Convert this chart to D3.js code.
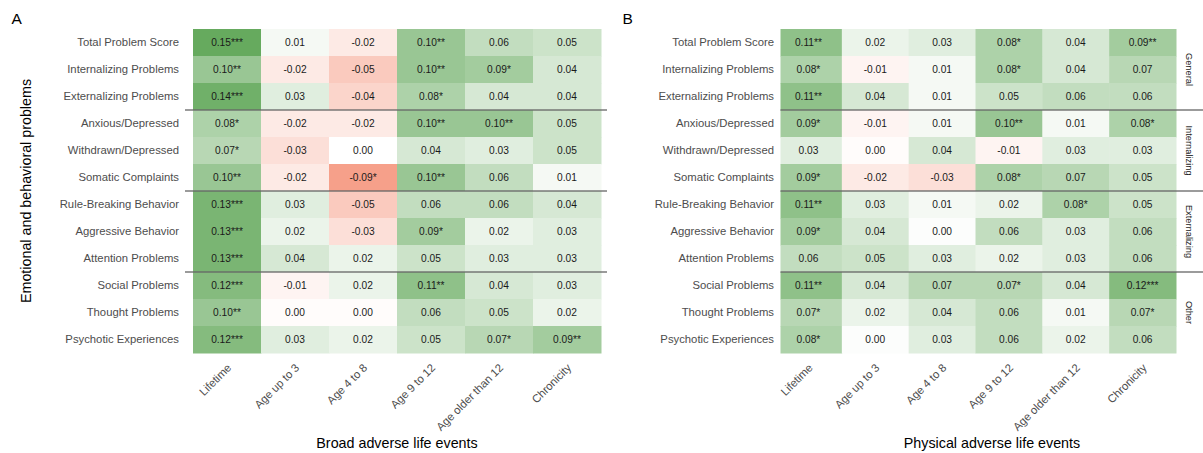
<!DOCTYPE html>
<html>
<head>
<meta charset="utf-8">
<script src="https://cdn.jsdelivr.net/npm/d3@7"></script>
<style>
  html, body { margin: 0; padding: 0; background: #fff; }
  svg { display: block; font-family: "Liberation Sans", Arial, sans-serif; }
</style>
</head>
<body>
<svg id="chart" width="1203" height="453"></svg>
<script>
// ---------------- DATA ----------------
const rows = [
  "Total Problem Score", "Internalizing Problems", "Externalizing Problems",
  "Anxious/Depressed", "Withdrawn/Depressed", "Somatic Complaints",
  "Rule-Breaking Behavior", "Aggressive Behavior", "Attention Problems",
  "Social Problems", "Thought Problems", "Psychotic Experiences"
];
const columns = ["Lifetime", "Age up to 3", "Age 4 to 8", "Age 9 to 12", "Age older than 12", "Chronicity"];
const groups = ["General", "Internalizing", "Externalizing", "Other"];

// Panel A: Broad adverse life events (rows x columns)
const broadValues = [
  [0.15, 0.01, -0.02, 0.10, 0.06, 0.05],
  [0.10, -0.02, -0.05, 0.10, 0.09, 0.04],
  [0.14, 0.03, -0.04, 0.08, 0.04, 0.04],
  [0.08, -0.02, -0.02, 0.10, 0.10, 0.05],
  [0.07, -0.03, 0.00, 0.04, 0.03, 0.05],
  [0.10, -0.02, -0.09, 0.10, 0.06, 0.01],
  [0.13, 0.03, -0.05, 0.06, 0.06, 0.04],
  [0.13, 0.02, -0.03, 0.09, 0.02, 0.03],
  [0.13, 0.04, 0.02, 0.05, 0.03, 0.03],
  [0.12, -0.01, 0.02, 0.11, 0.04, 0.03],
  [0.10, -0.003, -0.003, 0.06, 0.05, 0.02],
  [0.12, 0.03, 0.02, 0.05, 0.07, 0.09]
];
const broadStars = [
  ["***", "", "", "**", "", ""],
  ["**", "", "", "**", "*", ""],
  ["***", "", "", "*", "", ""],
  ["*", "", "", "**", "**", ""],
  ["*", "", "", "", "", ""],
  ["**", "", "*", "**", "", ""],
  ["***", "", "", "", "", ""],
  ["***", "", "", "*", "", ""],
  ["***", "", "", "", "", ""],
  ["***", "", "", "**", "", ""],
  ["**", "", "", "", "", ""],
  ["***", "", "", "", "*", "**"]
];

// Panel B: Physical adverse life events
const physicalValues = [
  [0.11, 0.02, 0.03, 0.08, 0.04, 0.09],
  [0.08, -0.01, 0.01, 0.08, 0.04, 0.07],
  [0.11, 0.04, 0.01, 0.05, 0.06, 0.06],
  [0.09, -0.01, 0.01, 0.10, 0.01, 0.08],
  [0.03, -0.003, 0.04, -0.01, 0.03, 0.03],
  [0.09, -0.02, -0.03, 0.08, 0.07, 0.05],
  [0.11, 0.03, 0.01, 0.02, 0.08, 0.05],
  [0.09, 0.04, 0.003, 0.06, 0.03, 0.06],
  [0.06, 0.05, 0.03, 0.02, 0.03, 0.06],
  [0.11, 0.04, 0.07, 0.07, 0.04, 0.12],
  [0.07, 0.02, 0.04, 0.06, 0.01, 0.07],
  [0.08, 0.003, 0.03, 0.06, 0.02, 0.06]
];
const physicalStars = [
  ["**", "", "", "*", "", "**"],
  ["*", "", "", "*", "", ""],
  ["**", "", "", "", "", ""],
  ["*", "", "", "**", "", "*"],
  ["", "", "", "", "", ""],
  ["*", "", "", "*", "", ""],
  ["**", "", "", "", "*", ""],
  ["*", "", "", "", "", ""],
  ["", "", "", "", "", ""],
  ["**", "", "", "*", "", "***"],
  ["*", "", "", "", "", "*"],
  ["*", "", "", "", "", ""]
];

// ---------------- DRAW ----------------
const svg = d3.select("#chart");
const color = d3.scaleLinear()
  .domain([-0.15, 0, 0.15])
  .range(["#f0613c", "#ffffff", "#66aa5e"])
  .clamp(true);
const fmt = v => {
  const s = d3.format(".2f")(v).replace("\u2212", "-");
  return s === "-0.00" ? "0.00" : s;
};

const plotTop = 29, plotBottom = 353;
const y = d3.scaleBand().domain(rows).range([plotTop, plotBottom]).padding(0);

function drawPanel(opt) {
  const x = d3.scaleBand().domain(columns).range([opt.x0, opt.x1]).padding(0);
  const g = svg.append("g");

  const clipId = "clip" + opt.letter;
  svg.append("clipPath").attr("id", clipId)
    .append("rect").attr("x", opt.clipX).attr("y", 0).attr("width", 1203 - opt.clipX).attr("height", 453);

  const cellsG = g.append("g").attr("clip-path", `url(#${clipId})`);
  const cells = [];
  rows.forEach((r, i) => columns.forEach((c, j) => {
    cells.push({ r, c, v: opt.values[i][j], s: opt.stars[i][j] });
  }));

  cellsG.selectAll("rect.cell").data(cells).join("rect")
    .attr("class", "cell")
    .attr("x", d => x(d.c))
    .attr("y", d => y(d.r))
    .attr("width", x.bandwidth() + 0.5)
    .attr("height", y.bandwidth() + 0.5)
    .attr("fill", d => color(d.v));

  cellsG.selectAll("text.val").data(cells).join("text")
    .attr("class", "val")
    .attr("x", d => x(d.c) + x.bandwidth() / 2)
    .attr("y", d => y(d.r) + y.bandwidth() / 2)
    .attr("dy", "0.36em")
    .attr("text-anchor", "middle")
    .attr("font-size", 10.2)
    .attr("fill", "#1a1a1a")
    .text(d => fmt(d.v) + d.s);

  // separator lines between groups
  const seps = [rows[3], rows[6], rows[9]];
  cellsG.selectAll("line.sep").data(seps).join("line")
    .attr("class", "sep")
    .attr("x1", opt.lineX0).attr("x2", opt.lineX1)
    .attr("y1", d => y(d)).attr("y2", d => y(d))
    .attr("stroke", "#666")
    .attr("stroke-opacity", 0.65)
    .attr("stroke-width", 2);

  // y axis (row labels)
  const ya = g.append("g")
    .attr("transform", `translate(${opt.x0},0)`)
    .call(d3.axisLeft(y).tickSize(0).tickPadding(opt.labelPad));
  ya.select(".domain").remove();
  ya.selectAll("text")
    .attr("font-size", 11.3)
    .attr("font-family", "Liberation Sans, Arial, sans-serif")
    .attr("fill", "#4d4d4d");

  // x axis (rotated column labels)
  const xa = g.append("g")
    .attr("transform", `translate(0,${plotBottom})`)
    .call(d3.axisBottom(x).tickSize(0));
  xa.select(".domain").remove();
  xa.selectAll("text")
    .attr("x", 0).attr("y", 0).attr("dy", 0)
    .attr("transform", "translate(5,15.5) rotate(-45)")
    .attr("text-anchor", "end")
    .attr("font-size", 11.3)
    .attr("font-family", "Liberation Sans, Arial, sans-serif")
    .attr("fill", "#4d4d4d");

  // x axis title
  g.append("text")
    .attr("x", opt.titleX).attr("y", 448)
    .attr("text-anchor", "middle")
    .attr("font-size", 14.3)
    .attr("fill", "#000")
    .text(opt.title);

  // panel letter
  g.append("text")
    .attr("x", opt.letterX).attr("y", 24)
    .attr("font-size", 15.5)
    .attr("fill", "#000")
    .text(opt.letter);

  return x;
}

drawPanel({
  letter: "A", letterX: 11.5, x0: 193, x1: 601, clipX: 0,
  lineX0: 185, lineX1: 607, labelPad: 14,
  values: broadValues, stars: broadStars,
  title: "Broad adverse life events", titleX: 397
});

drawPanel({
  letter: "B", letterX: 622.5, x0: 775, x1: 1176, clipX: 780.5,
  lineX0: 767, lineX1: 1203, labelPad: 1,
  values: physicalValues, stars: physicalStars,
  title: "Physical adverse life events", titleX: 992
});

// y axis title
svg.append("text")
  .attr("transform", `translate(31,${(plotTop + plotBottom) / 2}) rotate(-90)`)
  .attr("text-anchor", "middle")
  .attr("font-size", 14.3)
  .attr("fill", "#000")
  .text("Emotional and behavioral problems");

// strip labels on the right of panel B
const groupRows = [rows[0], rows[3], rows[6], rows[9]];
svg.selectAll("text.strip").data(groups).join("text")
  .attr("class", "strip")
  .attr("transform", (d, i) => `translate(1185.5,${y(groupRows[i]) + y.bandwidth() * 1.5}) rotate(90)`)
  .attr("text-anchor", "middle")
  .attr("font-size", 9.3)
  .attr("fill", "#1a1a1a")
  .text(d => d);
</script>
</body>
</html>
